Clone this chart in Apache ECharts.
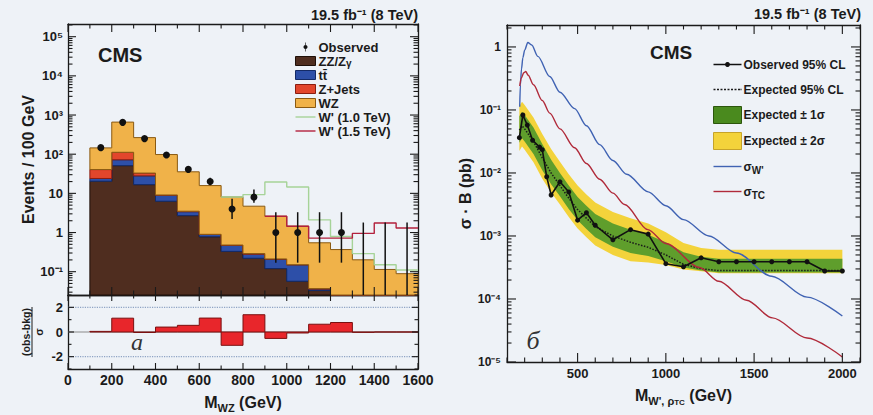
<!DOCTYPE html>
<html><head><meta charset="utf-8">
<script src="https://cdn.jsdelivr.net/npm/echarts@6.0.0/dist/echarts.min.js"></script>
<style>html,body{margin:0;padding:0;background:#eef2f7;}#c{width:873px;height:415px;}</style>
</head><body><div id="c"></div>
<script>
// ================= DATA: left panel (M_WZ distribution) =================
const binEdges = [100,200,300,400,500,600,700,800,900,1000,1100,1200,1300,1400,1500,1600];
const zzZg   = [20.4, 51, 16.7, 6.3, 2.7, 0.78, 0.33, 0.22, 0.12, 0.057, 0.033, 0.015, 0.01, 0.007, 0.005];
const ttbar  = [3.6, 21, 11.3, 2.7, 0.7, 0.11, 0.14, 0.06, 0.09, 0.093, 0.003, 0.002, 0.001, 0.001, 0.001];
const zJets  = [16.5, 40, 5, 0.1, 0.1, 0.01, 0.01, 0.01, 0.002, 0.001, 0.001, 0, 0, 0, 0];
const wzBkg  = [104.5, 548, 232, 88.9, 32, 14.9, 7.62, 4.41, 2.39, 1.3, 0.51, 0.35, 0.19, 0.106, 0.083];
const observed = [147, 650, 250, 95, 41, 20, 4, 8, 1, 1, 1, 1, 0, 0, 0];
const obsLow   = [135, 624, 234, 86, 35, 16, 2.2, 5.8, 0.17, 0.17, 0.17, 0.17, 0, 0, 0];
const obsHigh  = [160, 676, 266, 105, 48, 25, 7.3, 12.5, 3.3, 3.3, 3.3, 3.3, 1.8, 1.8, 1.8];
const wprime10 = [null, null, null, null, null, null, 8.1, 9.3, 19.5, 14.5, 2.1, 0.79, 0.29, 0.15, 0.11];
const wprime15 = [null, null, null, null, null, null, null, null, 2.6, 1.45, 0.72, 0.72, 0.95, 1.75, 1.3];
const pull     = [0.05, 1.12, -0.04, 0.4, 0.54, 1.13, -1.08, 1.4, -0.52, -0.08, 0.63, 0.77, -0.03, 0, 0];
const pullRefDotted = [-2, 2];
const leftXTicks = [0, 200, 400, 600, 800, 1000, 1200, 1400, 1600];
const leftYDecades = [0.1, 1, 10, 100, 1000, 10000, 100000];
const ratioYTicks = [-2, 0, 2];
const ratioYMinor = [-3, -1, 1, 3];

// ================= DATA: right panel (limits) =================
const limitMass = [170,185,200,250,300,350,400,450,500,550,600,700,800,900,1000,1100,1200,1300,1400,1500,1600,1700,1800,1900,2000];
const expected = [0.0479,0.0562,0.0501,0.0316,0.0174,0.0100,0.00631,0.00398,0.00263,0.00191,0.00141,0.00100,0.000794,0.000661,0.000501,0.000355,0.000302,0.000282,0.000282,0.000282,0.000282,0.000282,0.000282,0.000282,0.000282];
const exp1Up = [0.0794,0.0933,0.0832,0.0525,0.0288,0.0162,0.0100,0.00631,0.00417,0.00302,0.00224,0.00158,0.00126,0.00105,0.000794,0.000550,0.000468,0.000437,0.000437,0.000437,0.000437,0.000437,0.000437,0.000437,0.000437];
const exp1Dn = [0.0302,0.0355,0.0316,0.0200,0.0110,0.00661,0.00427,0.00269,0.00178,0.00129,0.000955,0.000676,0.000537,0.000479,0.000398,0.000316,0.000282,0.000263,0.000263,0.000263,0.000263,0.000263,0.000263,0.000263,0.000263];
const exp2Up = [0.115,0.135,0.120,0.0759,0.0417,0.0240,0.0151,0.00955,0.00631,0.00457,0.00339,0.00240,0.00191,0.00158,0.00115,0.000776,0.000646,0.000603,0.000603,0.000603,0.000603,0.000603,0.000603,0.000603,0.000603];
const exp2Dn = [0.0224,0.0263,0.0234,0.0148,0.00813,0.00490,0.00316,0.00200,0.00132,0.000955,0.000708,0.000501,0.000398,0.000380,0.000347,0.000295,0.000275,0.000257,0.000257,0.000257,0.000257,0.000257,0.000257,0.000257,0.000257];
const obsMass  = [170,190,215,245,285,300,325,350,400,450,500,550,600,700,800,900,1000,1100,1200,1300,1400,1500,1600,1700,1800,1900,2000];
const obsLimit = [0.0363,0.0832,0.0575,0.0331,0.0257,0.0234,0.0087,0.00447,0.00724,0.0050,0.00178,0.00234,0.00148,0.00087,0.00126,0.00107,0.000363,0.000324,0.00045,0.00039,0.00039,0.00039,0.00039,0.00039,0.00039,0.000278,0.000278];
const wMass  = [172,176,182,190,200,218,240,275,342,400,483,550,625,700,778,900,1000,1100,1244,1400,1600,1800,2000];
const sigmaW = [0.112,0.251,0.447,0.676,0.891,1.175,1.072,0.708,0.339,0.191,0.105,0.0562,0.0282,0.0158,0.00955,0.00501,0.00302,0.00182,0.00100,0.000537,0.000229,0.000107,0.0000537];
const tcMass  = [172,180,195,206,220,250,300,342,400,483,550,625,700,766,898,1000,1191,1300,1457,1604,1800,2000];
const sigmaTC = [0.240,0.316,0.389,0.407,0.355,0.251,0.141,0.0891,0.0501,0.0251,0.0141,0.00794,0.00479,0.00316,0.00126,0.000759,0.000316,0.000191,0.0000955,0.0000501,0.0000240,0.0000120];
const rightXTicks = [500, 1000, 1500, 2000];
const rightYDecades = [0.00001, 0.0001, 0.001, 0.01, 0.1, 1];

// ================= axis ranges =================
const LMIN = 0.0254, LMAX = 2.11e5;
const RMIN = 1e-5, RMAX = 2.23;
const XR = [100, 2100];

const FONT = '"Liberation Sans", Arial, Helvetica, sans-serif';
const TXT = '#1b1b1b', AX = '#1a1a1a';
const SUP = {'-':'⁻','0':'⁰','1':'¹','2':'²','3':'³','4':'⁴','5':'⁵','6':'⁶','7':'⁷','8':'⁸','9':'⁹'};
function decadeLabel(v){
  const e = Math.round(Math.log10(v));
  if (e === 0) return '1';
  if (e === 1) return '10';
  return '10' + String(e).split('').map(c => SUP[c]).join('');
}
const plainNum = v => String(Math.round(v));
function minorLog(min, max){
  const out = [];
  for (let e = Math.floor(Math.log10(min)); e <= Math.ceil(Math.log10(max)); e++)
    for (let k = 2; k <= 9; k++){ const v = k * Math.pow(10, e); if (v > min && v < max) out.push(v); }
  return out;
}
const leftYMinor = minorLog(LMIN, LMAX);
const rightYMinor = minorLog(RMIN, RMAX);
const leftXMinor = leftXTicks.slice(0, -1).map((v, i) => (v + leftXTicks[i + 1]) / 2);
const rightXMinor = [];
for (let v = XR[0]; v <= XR[1]; v += 100) if (rightXTicks.indexOf(v) < 0) rightXMinor.push(v);

const clampL = v => Math.min(Math.max(v, LMIN), LMAX);
const clampR = v => Math.min(Math.max(v, RMIN), RMAX);
const clampP = v => Math.min(Math.max(v, -3), 3);

function ax(o){
  return Object.assign({
    type: 'value', splitLine: {show: false},
    axisLine: {show: true, onZero: false, lineStyle: {color: AX, width: 1.3}},
    axisTick: {show: false},
    axisLabel: {show: false}
  }, o);
}
const lblS = (size, margin) => ({show: true, margin: margin, fontSize: size, fontWeight: 'bold', color: TXT, fontFamily: FONT});

function stepPts(api, base, top, clamp){
  const pts = [];
  for (let i = 0; i < top.length; i++){
    pts.push(api.coord([binEdges[i], clamp(top[i])]));
    pts.push(api.coord([binEdges[i + 1], clamp(top[i])]));
  }
  for (let i = top.length - 1; i >= 0; i--){
    pts.push(api.coord([binEdges[i + 1], clamp(base[i])]));
    pts.push(api.coord([binEdges[i], clamp(base[i])]));
  }
  return pts;
}
const binCenters = binEdges.slice(0, -1).map((e, i) => (e + binEdges[i + 1]) / 2);

// inward frame ticks (CMS style), placed through the axes' own scales
function frameTicks(xi, yi, xr, yr, xMaj, xMin, yMaj, yMin, majL, minL){
  return {type: 'custom', xAxisIndex: xi, yAxisIndex: yi, z: 6, silent: true, data: [[xr[0], yr[0]]],
    renderItem: (p, api) => {
      const ch = [];
      const add = (x1, y1, x2, y2) => ch.push({type: 'line', shape: {x1: x1, y1: y1, x2: x2, y2: y2}, style: {stroke: AX, lineWidth: 1.1}});
      const xt = (vals, L) => vals.forEach(v => {
        const b = api.coord([v, yr[0]]), t = api.coord([v, yr[1]]);
        add(b[0], b[1], b[0], b[1] - L); add(t[0], t[1], t[0], t[1] + L);
      });
      const yt = (vals, L) => vals.forEach(v => {
        const l = api.coord([xr[0], v]), r = api.coord([xr[1], v]);
        add(l[0], l[1], l[0] + L, l[1]); add(r[0], r[1], r[0] - L, r[1]);
      });
      xt(xMaj, majL); xt(xMin, minL); yt(yMaj, majL); yt(yMin, minL);
      return {type: 'group', children: ch};
    }};
}

const stackDefs = [
  {name: 'ZZ/Zγ', vals: zzZg, fill: '#4f2d1f', stroke: '#1e0f08'},
  {name: 'tt̄', vals: ttbar, fill: '#2d4fa8', stroke: '#142a66'},
  {name: 'Z+Jets', vals: zJets, fill: '#e2462c', stroke: '#8a1d10'},
  {name: 'WZ', vals: wzBkg, fill: '#f0b249', stroke: '#8a5a12'}
];
let run = binCenters.map(() => 0);
const series = [];
stackDefs.forEach(d => {
  const base = run.slice();
  run = run.map((v, i) => v + d.vals[i]);
  const top = run.slice();
  series.push({
    type: 'custom', name: d.name, xAxisIndex: 0, yAxisIndex: 0, z: 2,
    itemStyle: {color: d.fill},
    data: binCenters.map((c, i) => [c, top[i]]),
    renderItem: (p, api) => {
      if (p.dataIndex !== 0) return null;
      return {type: 'polygon', shape: {points: stepPts(api, base, top, clampL)},
              style: {fill: d.fill, stroke: d.stroke, lineWidth: 1}};
    }
  });
});
function stepData(vals){
  const d = []; let last = -1;
  vals.forEach((v, i) => { if (v != null){ d.push([binEdges[i], v]); last = i; } });
  d.push([binEdges[last + 1], vals[last]]);
  return d;
}
const GREEN_W = '#a6d398', RED_W = '#b3213d';
series.push({type: 'line', name: "W' (1.0 TeV)", xAxisIndex: 0, yAxisIndex: 0, z: 3, data: stepData(wprime10),
  step: 'end', symbol: 'none', lineStyle: {color: GREEN_W, width: 1.4}, itemStyle: {color: GREEN_W}});
series.push({type: 'line', name: "W' (1.5 TeV)", xAxisIndex: 0, yAxisIndex: 0, z: 3, data: stepData(wprime15),
  step: 'end', symbol: 'none', lineStyle: {color: RED_W, width: 1.4}, itemStyle: {color: RED_W}});
series.push({type: 'custom', name: 'Observed', xAxisIndex: 0, yAxisIndex: 0, z: 4, itemStyle: {color: '#111'},
  data: binCenters.map((c, i) => [c, observed[i], obsLow[i], obsHigh[i]]),
  renderItem: (p, api) => {
    const x = api.value(0), v = api.value(1), lo = api.value(2), hi = api.value(3);
    const a = api.coord([x, clampL(hi)]), b = api.coord([x, clampL(lo)]);
    const ch = [{type: 'line', shape: {x1: a[0], y1: a[1], x2: b[0], y2: b[1]}, style: {stroke: '#111', lineWidth: 1.5}}];
    if (v > 0){ const c = api.coord([x, v]); ch.push({type: 'circle', shape: {cx: c[0], cy: c[1], r: 3.5}, style: {fill: '#111'}}); }
    return {type: 'group', children: ch};
  }
});
series.push(frameTicks(0, 0, [0, 1600], [LMIN, LMAX], leftXTicks, leftXMinor, leftYDecades, leftYMinor, 8, 4.5));
// ratio panel
series.push({type: 'line', xAxisIndex: 2, yAxisIndex: 2, z: 1, silent: true, symbol: 'none',
  data: [[leftXTicks[0], 0], [leftXTicks[leftXTicks.length - 1], 0]], lineStyle: {color: '#8a8a8a', width: 1}});
pullRefDotted.forEach(r => series.push({type: 'line', xAxisIndex: 2, yAxisIndex: 2, z: 1, silent: true, symbol: 'none',
  data: [[leftXTicks[0], r], [leftXTicks[leftXTicks.length - 1], r]], lineStyle: {color: '#8ea3c4', width: 1.2, type: 'dotted'}}));
series.push({type: 'custom', xAxisIndex: 2, yAxisIndex: 2, z: 2, itemStyle: {color: '#e8262b'},
  data: binCenters.map((c, i) => [c, pull[i]]),
  renderItem: (p, api) => {
    if (p.dataIndex !== 0) return null;
    return {type: 'polygon', shape: {points: stepPts(api, pull.map(() => 0), pull, clampP)},
            style: {fill: '#e8262b', stroke: '#7a1010', lineWidth: 1}};
  }
});
series.push(frameTicks(2, 2, [0, 1600], [-3, 3], leftXTicks, leftXMinor, ratioYTicks, ratioYMinor, 6, 3.5));
// right panel
function band(name, up, dn, fill){
  return {type: 'custom', name: name, xAxisIndex: 4, yAxisIndex: 4, z: 1, itemStyle: {color: fill},
    data: limitMass.map((m, i) => [m, up[i], dn[i]]),
    renderItem: (p, api) => {
      if (p.dataIndex !== 0) return null;
      const pts = [];
      limitMass.forEach((m, i) => pts.push(api.coord([m, clampR(up[i])])));
      for (let i = limitMass.length - 1; i >= 0; i--) pts.push(api.coord([limitMass[i], clampR(dn[i])]));
      return {type: 'polygon', shape: {points: pts}, style: {fill: fill}};
    }};
}
const BLUE_S = '#4063b3', RED_S = '#b02a3a';
series.push(band('Expected ± 2σ', exp2Up, exp2Dn, '#f3d33b'));
series.push(band('Expected ± 1σ', exp1Up, exp1Dn, '#5f9e2c'));
series.push({type: 'line', name: 'Expected 95% CL', xAxisIndex: 4, yAxisIndex: 4, z: 3, symbol: 'none',
  data: limitMass.map((m, i) => [m, expected[i]]), lineStyle: {color: '#1a1a1a', width: 1.5, type: 'dotted'}, itemStyle: {color: '#1a1a1a'}});
series.push({type: 'line', name: 'Observed 95% CL', xAxisIndex: 4, yAxisIndex: 4, z: 4, symbol: 'circle', symbolSize: 5,
  data: obsMass.map((m, i) => [m, obsLimit[i]]), lineStyle: {color: '#111', width: 1.6}, itemStyle: {color: '#111'}});
series.push({type: 'line', name: "σW'", xAxisIndex: 4, yAxisIndex: 4, z: 3, symbol: 'none', smooth: 0.3, smoothMonotone: 'x',
  data: wMass.map((m, i) => [m, sigmaW[i]]), lineStyle: {color: BLUE_S, width: 1.4}, itemStyle: {color: BLUE_S}});
series.push({type: 'line', name: 'σTC', xAxisIndex: 4, yAxisIndex: 4, z: 3, symbol: 'none', smooth: 0.3, smoothMonotone: 'x',
  data: tcMass.map((m, i) => [m, sigmaTC[i]]), lineStyle: {color: RED_S, width: 1.4}, itemStyle: {color: RED_S}});
series.push(frameTicks(4, 4, XR, [RMIN, RMAX], rightXTicks, rightXMinor, rightYDecades, rightYMinor, 9, 4.5));

const subRich = {sub: {fontSize: 10, fontWeight: 'bold', fontFamily: FONT, color: TXT, verticalAlign: 'bottom', lineHeight: 11}};
const ICON_LINE20 = 'path://M0,0H20V1.4H0Z';
const ICON_LINE28 = 'path://M0,0H28V1.4H0Z';
const ICON_DOT28 = 'path://M0,0H2V1.4H0Z M3.5,0H5.5V1.4H3.5Z M7,0H9V1.4H7Z M10.5,0H12.5V1.4H10.5Z M14,0H16V1.4H14Z M17.5,0H19.5V1.4H17.5Z M21,0H23V1.4H21Z M24.5,0H26.5V1.4H24.5Z M27,0H28V1.4H27Z';
const ICON_OBS28 = 'path://M0,2.3H28V3.7H0Z M14,0.5A2.5,2.5 0 1,1 13.99,0.5Z';

const option = {
  animation: false,
  backgroundColor: '#eef2f7',
  textStyle: {fontFamily: FONT},
  grid: [
    {left: 68, top: 24, width: 350, height: 271},
    {left: 68, top: 295, width: 350, height: 74},
    {left: 507, top: 25, width: 353, height: 337}
  ],
  xAxis: [
    ax({gridIndex: 0, min: 0, max: 1600, interval: 200, position: 'bottom'}),
    ax({gridIndex: 0, min: 0, max: 1600, interval: 200, position: 'top'}),
    ax({gridIndex: 1, min: 0, max: 1600, interval: 200, position: 'bottom',
        axisLabel: Object.assign(lblS(14, 4), {customValues: leftXTicks, formatter: plainNum}),
        name: 'M{sub|WZ} (GeV)', nameLocation: 'middle', nameGap: 22,
        nameTextStyle: {fontSize: 16, fontWeight: 'bold', color: TXT, fontFamily: FONT, lineHeight: 22,
          rich: {sub: {fontSize: 11, fontWeight: 'bold', fontFamily: FONT, color: TXT, verticalAlign: 'bottom', lineHeight: 12}}}}),
    ax({gridIndex: 1, min: 0, max: 1600, interval: 200, position: 'top'}),
    ax({gridIndex: 2, min: XR[0], max: XR[1], position: 'bottom',
        axisLabel: Object.assign(lblS(13, 5), {customValues: rightXTicks, formatter: plainNum}),
        name: "M{sub|W', ρ}{sub2|TC} (GeV)", nameLocation: 'middle', nameGap: 21,
        nameTextStyle: {fontSize: 16, fontWeight: 'bold', color: TXT, fontFamily: FONT, lineHeight: 22,
          rich: {sub: {fontSize: 11, fontWeight: 'bold', fontFamily: FONT, color: TXT, verticalAlign: 'bottom', lineHeight: 12},
                 sub2: {fontSize: 8, fontWeight: 'bold', fontFamily: FONT, color: TXT, verticalAlign: 'bottom', lineHeight: 7}}}}),
    ax({gridIndex: 2, min: XR[0], max: XR[1], position: 'top'})
  ],
  yAxis: [
    ax({type: 'log', gridIndex: 0, min: LMIN, max: LMAX, position: 'left',
        axisLabel: Object.assign(lblS(13, 5), {customValues: leftYDecades, formatter: decadeLabel}),
        name: 'Events / 100 GeV', nameLocation: 'middle', nameGap: 24, nameRotate: 90,
        nameTextStyle: {fontSize: 16, fontWeight: 'bold', color: TXT, fontFamily: FONT}}),
    ax({type: 'log', gridIndex: 0, min: LMIN, max: LMAX, position: 'right'}),
    ax({gridIndex: 1, min: -3, max: 3, interval: 1, position: 'left',
        axisLabel: Object.assign(lblS(13, 5), {customValues: ratioYTicks})}),
    ax({gridIndex: 1, min: -3, max: 3, interval: 1, position: 'right'}),
    ax({type: 'log', gridIndex: 2, min: RMIN, max: RMAX, position: 'left',
        axisLabel: Object.assign(lblS(12, 6), {customValues: rightYDecades, formatter: decadeLabel}),
        name: 'σ · B (pb)', nameLocation: 'middle', nameGap: 29, nameRotate: 90,
        nameTextStyle: {fontSize: 16, fontWeight: 'bold', color: TXT, fontFamily: FONT}}),
    ax({type: 'log', gridIndex: 2, min: RMIN, max: RMAX, position: 'right'})
  ],
  legend: [
    {left: 295, top: 40, orient: 'vertical', padding: 0, itemWidth: 20, itemHeight: 9, itemGap: 0, selectedMode: false,
     textStyle: {fontSize: 13, fontWeight: 'bold', color: TXT, fontFamily: FONT, lineHeight: 14, padding: [0, 0, 0, -2], rich: subRich},
     formatter: n => n === 'ZZ/Zγ' ? 'ZZ/Z{sub|γ}' : n,
     data: [
       {name: 'Observed', icon: 'path://M9.3,0H10.7V20H9.3Z M10,5.5A4.5,4.5 0 1,1 9.99,5.5Z', itemStyle: {color: '#111'}},
       {name: 'ZZ/Zγ', icon: 'rect', itemStyle: {color: '#4f2d1f', borderColor: '#1e0f08', borderWidth: 1}},
       {name: 'tt̄', icon: 'rect', itemStyle: {color: '#2d4fa8', borderColor: '#142a66', borderWidth: 1}},
       {name: 'Z+Jets', icon: 'rect', itemStyle: {color: '#e2462c', borderColor: '#8a1d10', borderWidth: 1}},
       {name: 'WZ', icon: 'rect', itemStyle: {color: '#f0b249', borderColor: '#8a5a12', borderWidth: 1}},
       {name: "W' (1.0 TeV)", icon: ICON_LINE20, itemStyle: {color: GREEN_W, borderWidth: 0}},
       {name: "W' (1.5 TeV)", icon: ICON_LINE20, itemStyle: {color: RED_W, borderWidth: 0}}
     ]},
    {left: 713, top: 56, orient: 'vertical', padding: 0, itemWidth: 28, itemHeight: 17, itemGap: 8, selectedMode: false,
     textStyle: {fontSize: 12, fontWeight: 'bold', color: TXT, fontFamily: FONT, lineHeight: 17, padding: [0, 0, 0, -3], rich: subRich},
     formatter: n => n === "σW'" ? "σ{sub|W'}" : (n === 'σTC' ? 'σ{sub|TC}' : n),
     data: [
       {name: 'Observed 95% CL', icon: ICON_OBS28, itemStyle: {color: '#111', borderWidth: 0}},
       {name: 'Expected 95% CL', icon: ICON_DOT28, itemStyle: {color: '#1a1a1a', borderWidth: 0}},
       {name: 'Expected ± 1σ', icon: 'rect', itemStyle: {color: '#4a8a1e', borderColor: '#2c560c', borderWidth: 1}},
       {name: 'Expected ± 2σ', icon: 'rect', itemStyle: {color: '#f3d33b', borderColor: '#c6a32a', borderWidth: 1}},
       {name: "σW'", icon: ICON_LINE28, itemStyle: {color: BLUE_S, borderWidth: 0}},
       {name: 'σTC', icon: ICON_LINE28, itemStyle: {color: RED_S, borderWidth: 0}}
     ]}
  ],
  graphic: [
    {type: 'text', x: 418, y: 15, style: {text: '19.5 fb⁻¹ (8 TeV)', fill: TXT, fontSize: 14.5, fontWeight: 'bold', fontFamily: FONT, align: 'right', verticalAlign: 'middle'}},
    {type: 'text', x: 861, y: 14, style: {text: '19.5 fb⁻¹ (8 TeV)', fill: TXT, fontSize: 14.5, fontWeight: 'bold', fontFamily: FONT, align: 'right', verticalAlign: 'middle'}},
    {type: 'text', x: 98, y: 55, style: {text: 'CMS', fill: TXT, fontSize: 20, fontWeight: 'bold', fontFamily: FONT, align: 'left', verticalAlign: 'middle'}},
    {type: 'text', x: 650, y: 52, style: {text: 'CMS', fill: TXT, fontSize: 19, fontWeight: 'bold', fontFamily: FONT, align: 'left', verticalAlign: 'middle'}},
    {type: 'text', x: 137, y: 342, style: {text: 'a', fill: '#333', fontSize: 24, fontStyle: 'italic', fontFamily: '"Liberation Serif", "DejaVu Serif", serif', align: 'center', verticalAlign: 'middle'}},
    {type: 'text', x: 533, y: 340, style: {text: 'б', fill: '#333', fontSize: 26, fontStyle: 'italic', fontFamily: '"Liberation Serif", "DejaVu Serif", serif', align: 'center', verticalAlign: 'middle'}},
    {type: 'group', x: 32, y: 332, rotation: Math.PI / 2, children: [
      {type: 'text', x: 0, y: -6, style: {text: '(obs-bkg)', fill: TXT, fontSize: 10.5, fontWeight: 'bold', fontFamily: FONT, align: 'center', verticalAlign: 'middle'}},
      {type: 'line', shape: {x1: -25, y1: 0, x2: 25, y2: 0}, style: {stroke: TXT, lineWidth: 1}},
      {type: 'text', x: 0, y: 7, style: {text: 'σ', fill: TXT, fontSize: 11, fontWeight: 'bold', fontFamily: FONT, align: 'center', verticalAlign: 'middle'}}
    ]}
  ],
  series: series
};
const chart = echarts.init(document.getElementById('c'), null, {renderer: 'svg', width: 873, height: 415});
chart.setOption(option);
</script>
</body></html>
